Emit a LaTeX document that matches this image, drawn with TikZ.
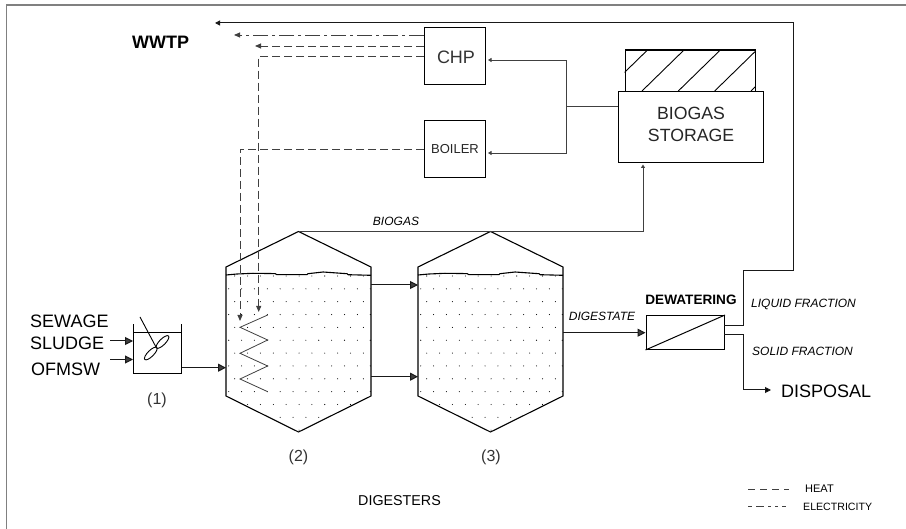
\documentclass[tikz,border=0pt]{standalone}
\usepackage{fontspec}
\setmainfont{Liberation Sans}
\usetikzlibrary{calc,arrows.meta,shapes.geometric}
\definecolor{linegray}{gray}{0.25}
\definecolor{framegray}{gray}{0.5}
\tikzset{
  unitbox/.style={draw=black,line width=1pt,inner sep=0pt,anchor=north west},
  flow/.style={draw=black!90,line width=1pt,-{Triangle[length=8pt,width=8pt,fill=linegray]}},
  gasflow/.style={draw=linegray,line width=0.9pt,-{Triangle[length=3.5pt,width=4pt,sep=2pt]}},
  heat/.style={draw=linegray,line width=0.9pt,dash pattern=on 8pt off 4pt,-{Triangle[length=6pt,width=5pt,sep=2pt]}},
  power/.style={draw=linegray,line width=0.9pt,dash pattern=on 15pt off 4pt on 3pt off 4pt,-{Triangle[length=6pt,width=5pt,sep=2pt]}},
  lab/.style={inner sep=0pt,font=\fontsize{18}{18}\selectfont},
  tag/.style={inner sep=0pt,font=\fontsize{12}{12}\selectfont\itshape},
  small/.style={inner sep=0pt,font=\fontsize{11}{11}\selectfont},
}
\begin{document}
\begin{tikzpicture}[x=1pt,y=-1pt]
  \useasboundingbox (0,0) rectangle (906,529);
  \draw[framegray,line width=1.4pt] (6.5,529) -- (6.5,5) -- (906,5);
  \node[unitbox,minimum width=61pt,minimum height=57pt] (chp) at (424,27.5) {};
  \node[lab,text=black!80] (chplab) at ($(chp.center)+(1,1)$) {CHP};
  \node[unitbox,minimum width=61pt,minimum height=57pt] (boiler) at (424,120) {};
  \node[lab,text=black!85,font=\fontsize{13}{13}\selectfont] (boilerlab) at (boiler.center) {BOILER};
  \begin{scope}
    \clip (624.7,49.5) rectangle (755,91);
    \foreach \xa in {605.5,642,678.3,714.7,751}{
      \draw[line width=0.9pt] (\xa,91) -- ++(42,-41);
    }
  \end{scope}
  \node[unitbox,line width=1.2pt,minimum width=130.3pt,minimum height=41.5pt] (cover) at (624.7,49.5) {};
  \node[unitbox,line width=1.2pt,fill=white,minimum width=145pt,minimum height=71pt] (storage) at (618,91) {};
  \node[lab,text=black!85,align=center,font=\fontsize{17.7}{21.7}\selectfont] (storagelab) at ($(storage.center)+(0,-2.5)$) {BIOGAS\\STORAGE};
  \foreach \dx in {0,192}{
    \begin{scope}[xshift=\dx pt]
      \begin{scope}
        \clip (226,275) -- (371,275) -- (371,396) -- (298.5,432.5) -- (226,396) -- cycle;
        \foreach \j in {0,...,12}{
          \foreach \i in {0,...,11}{
            \pgfmathsetmacro\xa{228.7+\i*12.87+6*(1-mod(\j,2))}
            \pgfmathsetmacro\yb{276+\j*12.85}
            \fill (\xa,\yb) circle (0.55pt);
          }
        }
      \end{scope}
      \draw[line width=1.1pt] (226,396) -- (226,267) -- (298.5,231.5) -- (371,267) -- (371,396) -- (298.5,432) -- cycle;
      \draw[line width=1.1pt] (226,275) -- (237,274) -- (253,273.3) -- (275,273.6) -- (277,274.7) -- (307,274.7) -- (308,273.7) -- (323,272) -- (347,273.7) -- (348,274.7) -- (371,275.3);
    \end{scope}
  }
  \coordinate (apex) at (298.5,231.5);
  \coordinate (inA) at (226,367.7);
  \coordinate (outA) at (371,285);
  \coordinate (outB) at (371,376.7);
  \coordinate (inB) at (418,285);
  \coordinate (inC) at (418,376.7);
  \coordinate (outC) at (563,332.7);
  \draw[linegray,line width=0.8pt] (267.7,315) -- (240,327.3) -- (267.7,340) -- (240,353.3) -- (267.7,366) -- (240,379) -- (267.7,391.7);
  \node[unitbox,minimum width=47.5pt,minimum height=40.7pt] (tank) at (133,332) {};
  \draw[line width=1pt] (tank.north west) -- ++(0,-8);
  \draw[line width=1pt] (tank.north east) -- ++(0,-8);
  \draw[line width=0.9pt] (140,317) -- (156.5,348);
  \node[draw,ellipse,inner sep=0pt,minimum width=17pt,minimum height=6pt,rotate=45,line width=0.9pt] (bladeA) at (150.8,353.5) {};
  \node[draw,ellipse,inner sep=0pt,minimum width=17pt,minimum height=6pt,rotate=45,line width=0.9pt] (bladeB) at (162.5,342) {};
  \coordinate (sludgeS) at (110,341);
  \coordinate (sludgeE) at (133,341);
  \coordinate (ofmswS) at (110,359.5);
  \coordinate (ofmswE) at (133,359.5);
  \draw[flow] (sludgeS) -- (sludgeE);
  \draw[flow] (ofmswS) -- (ofmswE);
  \draw[flow] (tank.east |- inA) -- (inA);
  \draw[flow] (outA) -- (inB);
  \draw[flow] (outB) -- (inC);
  \node[unitbox,minimum width=78.5pt,minimum height=34pt] (dewater) at (645.5,315) {};
  \draw[line width=1pt] (dewater.south west) -- (dewater.north east);
  \draw[flow] (outC) -- (dewater.west |- outC);
  \draw[gasflow] (apex) -- (643,231.5) -- (643,162.5);
  \coordinate (split) at (566,107);
  \draw[linegray,line width=1pt] (storage.west |- split) -- (split);
  \draw[gasflow] (split) |- (chp.east |- 0,60);
  \draw[gasflow] (split) |- (boiler.east |- 0,153);
  \draw[power] (chp.west |- 0,35) -- (232,35);
  \draw[heat] (chp.west |- 0,46) -- (253,46);
  \draw[heat] (chp.west |- 0,56) -- (258.7,56) -- (258.7,314);
  \draw[heat] (boiler.west |- 0,149) -- (240,149) -- (240,323);
  \coordinate (liq) at (724,326);
  \coordinate (sol) at (724,335);
  \draw[black!90,line width=1pt,-{Triangle[length=5pt,width=5pt,sep=2pt]}] (liq) -- (743,326) -- (743,271) -- (793,271) -- (793,23) -- (213,23);
  \draw[flow,-{Triangle[length=6pt,width=6pt,fill=black]}] (sol) -- (743,335) -- (743,390) -- (771,390);
  \node[lab,anchor=west] (wwtp) at (132,42) {\textbf{WWTP}};
  \node[lab,anchor=west] (sewage) at (30,321) {SEWAGE};
  \node[lab,anchor=west] (sludge) at (30,343) {SLUDGE};
  \node[lab,anchor=west] (ofmsw) at (31,369) {OFMSW};
  \node[lab,text=black!80,font=\fontsize{16}{16}\selectfont] (labA) at (157,400) {(1)};
  \node[lab,text=black!80,font=\fontsize{16}{16}\selectfont] (labB) at (298.5,457) {(2)};
  \node[lab,text=black!80,font=\fontsize{16}{16}\selectfont] (labC) at (491,457) {(3)};
  \node[lab,font=\fontsize{14.3}{16}\selectfont,anchor=west] (digesters) at (358,501) {DIGESTERS};
  \node[tag] (biogas) at (396,221) {BIOGAS};
  \node[tag] (digestate) at (602,316) {DIGESTATE};
  \node[lab,font=\fontsize{13.6}{14}\selectfont\bfseries] (dewlab) at (691,300) {DEWATERING};
  \node[tag,anchor=west] (liquid) at (751,304) {LIQUID FRACTION};
  \node[tag,anchor=west] (solid) at (752,351) {SOLID FRACTION};
  \node[lab,anchor=west] (disposal) at (781,391) {DISPOSAL};
  \coordinate (keyA) at (748,489);
  \coordinate (keyB) at (748,506);
  \coordinate (keyC) at (789,489);
  \coordinate (keyD) at (789,506);
  \draw[linegray,line width=0.9pt,dash pattern=on 7pt off 5pt] (keyA) -- (keyC);
  \draw[linegray,line width=0.9pt,dash pattern=on 4pt off 4pt on 8pt off 4pt on 3pt off 4pt on 3pt off 4pt] (keyB) -- (keyD);
  \node[small,anchor=west] (heatlab) at (805,489) {HEAT};
  \node[small,anchor=west,font=\fontsize{10.6}{11}\selectfont] (powerlab) at (803,506.5) {ELECTRICITY};
\end{tikzpicture}
\end{document}
